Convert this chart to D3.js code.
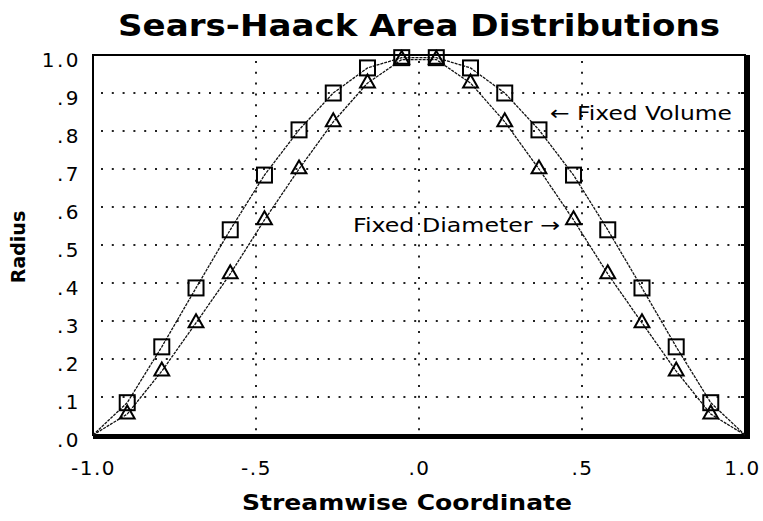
<!DOCTYPE html>
<html>
<head>
<meta charset="utf-8">
<script src="https://cdn.jsdelivr.net/npm/d3@7"></script>
<style>
  body { margin: 0; background: #fff; }
  text { font-family: "DejaVu Sans", sans-serif; fill: #000; }
  .title { font-weight: bold; font-size: 30px; }
  .axis_label { font-weight: bold; font-size: 21px; }
  .note { font-size: 20px; }
</style>
</head>
<body>
<svg width="763" height="521"></svg>
<script>
var svg = d3.select("svg"),
  margin = { left: 93, right: 18, top: 55, bottom: 86 },
  width = svg.attr("width") - margin.left - margin.right,
  height = svg.attr("height") - margin.top - margin.bottom;

// streamwise stations (same for both curves)
var xs = [-1.0, -0.895, -0.789, -0.684, -0.579, -0.474, -0.368, -0.263, -0.158, -0.053,
  0.053, 0.158, 0.263, 0.368, 0.474, 0.579, 0.684, 0.789, 0.895, 1.0];
var fixedVolume = [0, 0.085, 0.232, 0.387, 0.54, 0.684, 0.803, 0.9, 0.966, 0.993,
  0.993, 0.966, 0.9, 0.803, 0.684, 0.54, 0.387, 0.232, 0.085, 0];
var fixedDiameter = [0, 0.055, 0.168, 0.295, 0.424, 0.566, 0.70, 0.824, 0.926, 0.988,
  0.988, 0.926, 0.824, 0.70, 0.566, 0.424, 0.295, 0.168, 0.055, 0];

var xTicks = [-1, -0.5, 0, 0.5, 1];
var xTickLabels = ["-1.0", "-.5", ".0", ".5", "1.0"];
var yTicks = [0, 0.1, 0.2, 0.3, 0.4, 0.5, 0.6, 0.7, 0.8, 0.9, 1.0];
var yTickLabels = [".0", ".1", ".2", ".3", ".4", ".5", ".6", ".7", ".8", ".9", "1.0"];

var x = d3.scaleLinear().domain([-1, 1]).range([0, width]);
var y = d3.scaleLinear().domain([0, 1]).range([height, 0]);

svg.append("text")
  .attr("class", "title")
  .attr("x", 419)
  .attr("y", 36)
  .attr("text-anchor", "middle")
  .attr("textLength", 602)
  .attr("lengthAdjust", "spacingAndGlyphs")
  .text("Sears-Haack Area Distributions");

var g = svg.append("g")
  .attr("transform", "translate(" + margin.left + "," + margin.top + ")");

// dotted grid
g.selectAll("line.hgrid")
  .data(yTicks.slice(1, -1))
  .enter()
  .append("line")
  .attr("class", "hgrid")
  .attr("x1", 8).attr("x2", width)
  .attr("y1", d => y(d)).attr("y2", d => y(d))
  .attr("stroke", "#222")
  .attr("stroke-width", 2)
  .attr("stroke-dasharray", "2,8.8");

g.selectAll("line.vgrid")
  .data(xTicks.slice(1, -1))
  .enter()
  .append("line")
  .attr("class", "vgrid")
  .attr("x1", d => x(d)).attr("x2", d => x(d))
  .attr("y1", 6).attr("y2", height)
  .attr("stroke", "#222")
  .attr("stroke-width", 2)
  .attr("stroke-dasharray", "2,8.8");

// frame with drop shadow on right and bottom
g.append("rect")
  .attr("x", width).attr("y", 0)
  .attr("width", 5).attr("height", height + 4)
  .attr("fill", "#000");
g.append("rect")
  .attr("x", 0).attr("y", height)
  .attr("width", width + 4).attr("height", 4)
  .attr("fill", "#000");
g.append("rect")
  .attr("x", 0).attr("y", 0)
  .attr("width", width).attr("height", height)
  .attr("fill", "none")
  .attr("stroke", "#000")
  .attr("stroke-width", 2);

// small inside ticks on the right edge
g.selectAll("line.rtick")
  .data(yTicks.slice(1, -1))
  .enter()
  .append("line")
  .attr("class", "rtick")
  .attr("x1", width - 4).attr("x2", width)
  .attr("y1", d => y(d)).attr("y2", d => y(d))
  .attr("stroke", "#000")
  .attr("stroke-width", 2);

// axes (labels only)
var xAxis = g.append("g")
  .attr("class", "axis_x")
  .attr("transform", "translate(0," + height + ")")
  .call(d3.axisBottom(x).tickValues(xTicks).tickSize(0)
    .tickFormat((d, i) => xTickLabels[i]));
var yAxis = g.append("g")
  .attr("class", "axis_y")
  .call(d3.axisLeft(y).tickValues(yTicks).tickSize(0)
    .tickFormat((d, i) => yTickLabels[i]));
g.selectAll(".domain").remove();
xAxis.selectAll("text")
  .attr("y", 40)
  .attr("dy", 0)
  .attr("dx", (d, i) => i === xTicks.length - 1 ? -3 : 0)
  .style("font-size", "20px")
  .style("font-family", "DejaVu Sans")
  .style("letter-spacing", "1.5px");
yAxis.selectAll("text")
  .attr("x", -12)
  .attr("dy", "0.55em")
  .style("font-size", "20px")
  .style("font-family", "DejaVu Sans")
  .style("letter-spacing", "2.5px");

// curves
var line = d3.line()
  .x(d => x(d[0]))
  .y(d => y(d[1]));

var volPts = xs.map((v, i) => [v, fixedVolume[i]]);
var diaPts = xs.map((v, i) => [v, fixedDiameter[i]]);

[volPts, diaPts].forEach(function(pts) {
  g.append("path")
    .datum(pts)
    .attr("d", line)
    .attr("fill", "none")
    .attr("stroke", "#111")
    .attr("stroke-width", 1.3)
    .attr("stroke-dasharray", "3,1");
});

var sq = 15;
g.selectAll("rect.sq")
  .data(volPts.slice(1, -1))
  .enter()
  .append("rect")
  .attr("class", "sq")
  .attr("x", d => x(d[0]) - sq / 2)
  .attr("y", d => y(d[1]) - sq / 2)
  .attr("width", sq)
  .attr("height", sq)
  .attr("fill", "none")
  .attr("stroke", "#000")
  .attr("stroke-width", 2);

var tri = d3.symbol().type(d3.symbolTriangle).size(95);
g.selectAll("path.tri")
  .data(diaPts.slice(1, -1))
  .enter()
  .append("path")
  .attr("class", "tri")
  .attr("d", tri)
  .attr("transform", d => "translate(" + x(d[0]) + "," + y(d[1]) + ")")
  .attr("fill", "none")
  .attr("stroke", "#000")
  .attr("stroke-width", 2);

// annotations
g.append("text")
  .attr("class", "note")
  .attr("x", 550 - margin.left)
  .attr("y", 120 - margin.top)
  .attr("textLength", 182)
  .attr("lengthAdjust", "spacingAndGlyphs")
  .text("\u2190 Fixed Volume");
g.append("text")
  .attr("class", "note")
  .attr("x", 353 - margin.left)
  .attr("y", 232 - margin.top)
  .attr("textLength", 207)
  .attr("lengthAdjust", "spacingAndGlyphs")
  .text("Fixed Diameter \u2192");

// axis titles
svg.append("text")
  .attr("class", "axis_label")
  .attr("text-anchor", "middle")
  .attr("x", 407)
  .attr("y", 510)
  .attr("textLength", 330)
  .attr("lengthAdjust", "spacingAndGlyphs")
  .text("Streamwise Coordinate");
svg.append("text")
  .attr("class", "axis_label")
  .attr("text-anchor", "middle")
  .attr("transform", "translate(25,247)rotate(-90)")
  .style("font-size", "19px")
  .text("Radius");
</script>
</body>
</html>
